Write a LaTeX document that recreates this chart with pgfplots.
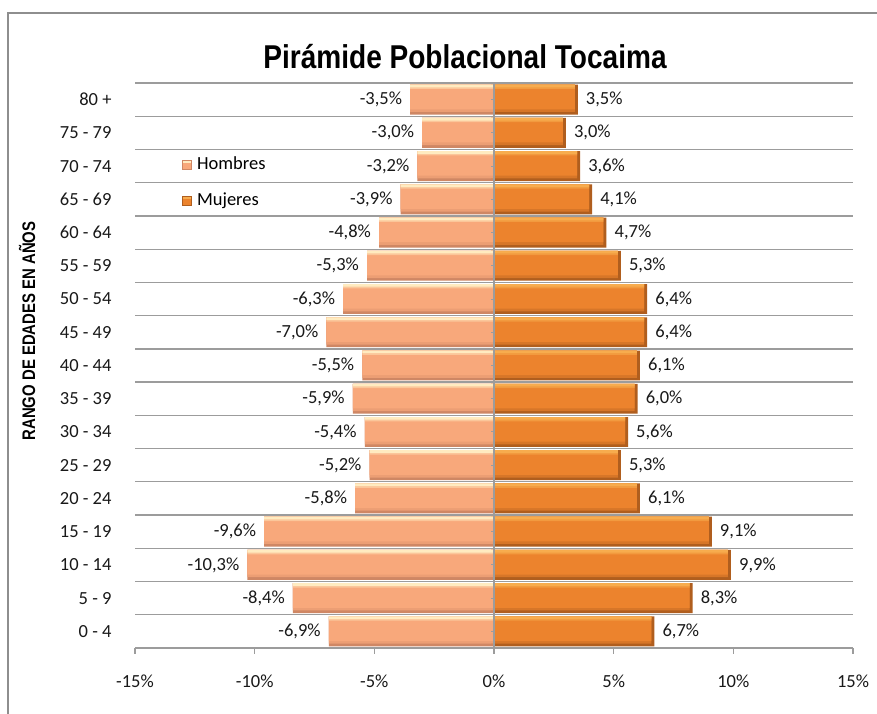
\documentclass[border=0pt]{standalone}
\usepackage{pgfplots}
\usepackage{pgfplotstable}
\pgfplotsset{compat=1.18}
\usepackage{fontspec}
\setmainfont{Carlito}
\newfontfamily\titlefont[FakeStretch=0.85]{Liberation Sans}
\newfontfamily\ylabfont[FakeStretch=0.82]{Liberation Sans}

\definecolor{menL}{HTML}{FFEBC0}
\definecolor{menM}{HTML}{F8A87B}
\definecolor{menD}{HTML}{CF8764}
\definecolor{womL}{HTML}{F7AC4E}
\definecolor{womM}{HTML}{EC832D}
\definecolor{womD}{HTML}{B05E1E}
\definecolor{gridc}{HTML}{9C9C9C}
\definecolor{framec}{HTML}{8E8E8E}

\pgfplotstableread{
y x lab
0 -6.9 -6,9
1 -8.4 -8,4
2 -10.3 -10,3
3 -9.6 -9,6
4 -5.8 -5,8
5 -5.2 -5,2
6 -5.4 -5,4
7 -5.9 -5,9
8 -5.5 -5,5
9 -7.0 -7,0
10 -6.3 -6,3
11 -5.3 -5,3
12 -4.8 -4,8
13 -3.9 -3,9
14 -3.2 -3,2
15 -3.0 -3,0
16 -3.5 -3,5
}\men
\pgfplotstableread{
y x lab
0 6.7 6,7
1 8.3 8,3
2 9.9 9,9
3 9.1 9,1
4 6.1 6,1
5 5.3 5,3
6 5.6 5,6
7 6.0 6,0
8 6.1 6,1
9 6.4 6,4
10 6.4 6,4
11 5.3 5,3
12 4.7 4,7
13 4.1 4,1
14 3.6 3,6
15 3.0 3,0
16 3.5 3,5
}\wom

\pgfplotsset{
  lay/.style n args={3}{draw=none, fill=#1, bar width=#2, bar shift=#3, forget plot},
}

\begin{document}
\begin{tikzpicture}
\useasboundingbox (0,0) rectangle (877bp,714bp);
\fill[white] (0,0) rectangle (877bp,714bp);
\draw[framec, line width=1.3bp] (8bp,-5bp) -- (8bp,701bp) -- (885bp,701bp);

\begin{axis}[
  at={(135bp,66bp)}, anchor=south west,
  scale only axis, width=718bp, height=565bp,
  xmin=-15, xmax=15, ymin=-0.5, ymax=16.5,
  xbar, bar shift=0pt, bar width=0.9,
  axis x line*=bottom, axis y line*=left,
  x axis line style={gridc, line width=1.3bp},
  y axis line style={draw=none},
  xtick={-15,-10,-5,0,5,10,15},
  xticklabels={-15\%,-10\%,-5\%,0\%,5\%,10\%,15\%},
  xtick align=outside, major tick length=6bp,
  xtick style={gridc, line width=1.3bp},
  ytick={0,...,16},
  yticklabels={0 - 4,5 - 9,10 - 14,15 - 19,20 - 24,25 - 29,30 - 34,35 - 39,40 - 44,45 - 49,50 - 54,55 - 59,60 - 64,65 - 69,70 - 74,75 - 79,80 +},
  ytick style={draw=none},
  ticklabel style={font=\fontsize{18.5bp}{22bp}\selectfont, text=black!90},
  yticklabel style={xshift=-14bp},
  xticklabel style={yshift=-17bp},
  legend style={draw=none, fill=none, at={(0.061,0.876)}, anchor=north west,
    font=\fontsize{18.5bp}{22bp}\selectfont,
    nodes={inner sep=2bp, text height=12bp, text depth=4bp},
    row sep=16bp},
  legend cell align=left,
]
\pgfplotsinvokeforeach{0.5,1.5,...,16.5}{\draw[gridc, line width=1.3bp] (axis cs:-15,#1) -- (axis cs:15,#1);}
% men base bars with labels
\addplot[draw=none, fill=menD, bar width=0.9, bar shift=0,
  point meta=explicit symbolic,
  nodes near coords={\pgfplotspointmeta\%},
  every node near coord/.append style={anchor=east, xshift=-6bp, fill=white, inner sep=2bp,
     font=\fontsize{18.5bp}{22bp}\selectfont, text=black!90},
  legend image code/.code={
    \fill[menD] (0bp,-5bp) rectangle (10bp,5bp);
    \fill[menM] (1.2bp,-3.8bp) rectangle (8.8bp,3.8bp);
    \fill[menL] (1.2bp,2.6bp) rectangle (8.8bp,3.8bp);}]
  table[x=x, y=y, meta=lab] {\men};
\addlegendentry{\,Hombres}
% women base bars with labels
\addplot[draw=none, fill=womD, bar width=0.9, bar shift=0,
  point meta=explicit symbolic,
  nodes near coords={\pgfplotspointmeta\%},
  every node near coord/.append style={anchor=west, xshift=6bp, fill=white, inner sep=2bp,
     font=\fontsize{18.5bp}{22bp}\selectfont, text=black!90},
  legend image code/.code={
    \fill[womD] (0bp,-5bp) rectangle (10bp,5bp);
    \fill[womM] (1.2bp,-3.8bp) rectangle (8.8bp,3.8bp);
    \fill[womL] (1.2bp,2.6bp) rectangle (8.8bp,3.8bp);}]
  table[x=x, y=y, meta=lab] {\wom};
\addlegendentry{\,Mujeres}
% women bevel layers (shifted to leave a darker end)
\addplot[lay={womM!65!womD}{0.82}{0.04}, xshift=-3bp] table[x=x, y=y] {\wom};
\addplot[lay={womM}{0.74}{0.08}, xshift=-3bp] table[x=x, y=y] {\wom};
\addplot[lay={womL!55!womM}{0.13}{0.385}, xshift=-3bp] table[x=x, y=y] {\wom};
\addplot[lay={womL}{0.08}{0.41}, xshift=-3bp] table[x=x, y=y] {\wom};
% men bevel layers
\addplot[lay={menM!70!menD}{0.82}{0.04}] table[x=x, y=y] {\men};
\addplot[lay={menM}{0.74}{0.08}] table[x=x, y=y] {\men};
\addplot[lay={menL!45!menM}{0.13}{0.385}] table[x=x, y=y] {\men};
\addplot[lay={menL}{0.08}{0.41}] table[x=x, y=y] {\men};
\draw[gridc, line width=1.2bp] (axis cs:0,-0.5) -- (axis cs:0,16.5);
\pgfplotsinvokeforeach{-0.5,0,...,16.5}{\draw[gridc, line width=1bp] (axis cs:0,#1) -- ([xshift=-3bp]axis cs:0,#1);}
\end{axis}

\node[font=\titlefont\bfseries\fontsize{33bp}{38bp}\selectfont, text=black] at (465bp,657bp) {Pirámide Poblacional Tocaima};
\node[rotate=90, font=\ylabfont\bfseries\fontsize{18.2bp}{22bp}\selectfont, text=black] at (27bp,383bp) {RANGO DE EDADES EN AÑOS};
\end{tikzpicture}
\end{document}
